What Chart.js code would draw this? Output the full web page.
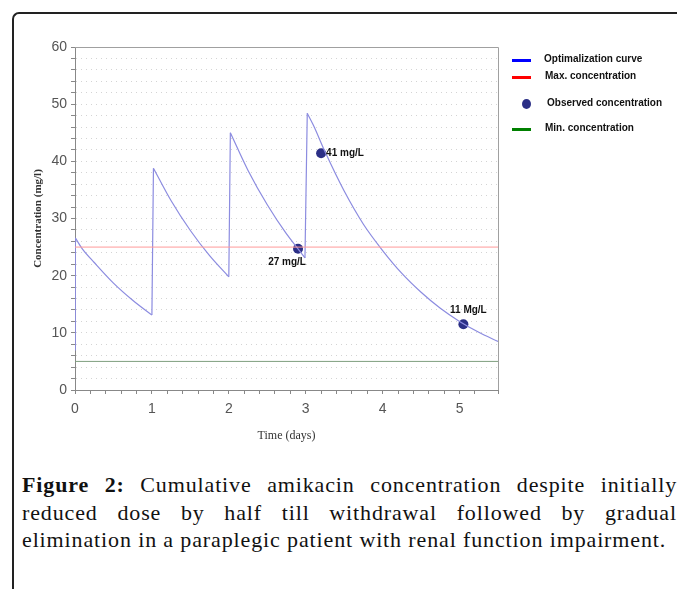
<!DOCTYPE html>
<html>
<head>
<meta charset="utf-8">
<script src="https://cdn.jsdelivr.net/npm/chart.js@4.4.1/dist/chart.umd.min.js"></script>
<style>
  html, body { margin: 0; padding: 0; background: #fff; }
  body { width: 677px; height: 589px; position: relative; overflow: hidden; }
  #frame {
    position: absolute; left: 12px; top: 12px; width: 680px; height: 600px;
    border-top: 2px solid #222; border-left: 2px solid #222; border-top-left-radius: 7px;
  }
  #chart { position: absolute; left: 0; top: 0; }
  #legend { position: absolute; left: 512px; top: 50px; font: bold 10px "Liberation Sans", Arial, sans-serif; color: #111; }
  .item { position: absolute; white-space: nowrap; }
  .sw { position: absolute; width: 19px; height: 3px; }
  .dot { position: absolute; width: 9px; height: 10px; border-radius: 50%; background: #2b2f86; }
  #caption {
    position: absolute; left: 22px; top: 471px; width: 655px;
    font: 22px "Liberation Serif", "DejaVu Serif", serif; line-height: 27.5px;
    text-align: justify; color: #111;
  }
</style>
</head>
<body>
<div id="frame"></div>
<canvas id="chart" width="677" height="460"></canvas>
<div id="legend"></div>
<div id="caption"><b>Figure 2:</b> Cumulative amikacin concentration despite initially reduced dose by half till withdrawal followed by gradual elimination in a paraplegic patient with renal function impairment.</div>
<script>
// optimalization curve (days, mg/l); null separates the dose segments
const curveX = [0, null,
  0.004, 0.1, 0.25, 0.5, 0.75, 1.0, null,
  1.02, 1.25, 1.5, 1.75, 2.0, null,
  2.02, 2.25, 2.5, 2.75, 2.9, 2.99, null,
  3.02, 3.1, 3.25, 3.5, 3.75, 4.0, 4.25, 4.5, 4.75, 5.0, 5.25, 5.5];
const curveY = [7, null,
  26.6, 24.6, 22.3, 18.7, 15.7, 13.1, null,
  38.8, 33.1, 27.9, 23.5, 19.8, null,
  45.0, 38.4, 32.4, 27.3, 24.7, 23.1, null,
  48.4, 46.3, 41.7, 34.8, 29.0, 24.4, 20.4, 17.1, 14.3, 12.0, 10.1, 8.5];

// observed concentrations
const obsX = [2.9, 3.2, 5.05];
const obsY = [24.7, 41.4, 11.5];
const obsLabels = ['27 mg/L', '41 mg/L', '11 Mg/L'];

const maxConc = 25;
const minConc = 5;
const xRange = [0, 5.5];

const legendItems = [
  { label: 'Optimalization curve', color: '#0000ff', type: 'line' },
  { label: 'Max. concentration', color: '#ff0000', type: 'line' },
  { label: 'Observed concentration', color: '#2b2f86', type: 'dot' },
  { label: 'Min. concentration', color: '#008000', type: 'line' }
];

// caption: widen the serif a bit so the lines break like the original
(function () {
  const cap = document.getElementById('caption');
  const c = document.createElement('canvas').getContext('2d');
  c.font = '22px "Liberation Serif"';
  const s = 'elimination in a paraplegic patient with renal function impairment.';
  const w = c.measureText(s).width;
  cap.style.letterSpacing = ((644 - w) / s.length).toFixed(2) + 'px';
})();

// html legend
const legendTops = [0, 17, 44, 69];
const legendEl = document.getElementById('legend');
legendItems.forEach((it, i) => {
  const row = document.createElement('div');
  row.className = 'item';
  row.style.top = legendTops[i] + 'px';
  if (it.type === 'line') {
    row.innerHTML = '<span class="sw" style="left:0;top:9px;background:' + it.color + '"></span>' +
      '<span style="position:absolute;left:' + (i === 0 ? 32 : 33) + 'px;top:3px">' + it.label + '</span>';
  } else {
    row.innerHTML = '<span class="dot" style="left:10px;top:5px"></span>' +
      '<span style="position:absolute;left:35px;top:3px">' + it.label + '</span>';
  }
  legendEl.appendChild(row);
});

const curveData = curveX.map((x, i) => x === null ? { x: NaN, y: null } : { x: x, y: curveY[i] });

// the dose jumps: end of one segment to start of the next
const jumpData = [];
curveX.forEach((x, i) => {
  if (x === null) {
    jumpData.push({ x: curveX[i - 1], y: curveY[i - 1] });
    jumpData.push({ x: curveX[i + 1], y: curveY[i + 1] });
    jumpData.push({ x: NaN, y: null });
  }
});

const obsData = obsX.map((x, i) => ({ x: x, y: obsY[i] }));

// top/right frame of the plot
const framePlugin = {
  id: 'framePlugin',
  beforeDatasetsDraw(chart) {
    const a = chart.chartArea;
    const ctx = chart.ctx;
    ctx.save();
    ctx.strokeStyle = '#a0a0a0';
    ctx.lineWidth = 1;
    ctx.beginPath();
    ctx.moveTo(a.left, a.top + 0.5);
    ctx.lineTo(a.right + 0.5, a.top + 0.5);
    ctx.lineTo(a.right + 0.5, a.bottom);
    ctx.stroke();
    ctx.restore();
  }
};

// text next to the observed points
const labelOffsets = [[-11, 13, 'center'], [5, 0, 'left'], [5, -14, 'center']];
const pointLabels = {
  id: 'pointLabels',
  afterDatasetsDraw(chart) {
    const ctx = chart.ctx;
    const xs = chart.scales.x, ys = chart.scales.y;
    ctx.save();
    ctx.font = 'bold 10px "Liberation Sans", Arial, sans-serif';
    ctx.fillStyle = '#111';
    ctx.textBaseline = 'middle';
    obsLabels.forEach((t, i) => {
      const o = labelOffsets[i];
      ctx.textAlign = o[2];
      ctx.fillText(t, xs.getPixelForValue(obsX[i]) + o[0], ys.getPixelForValue(obsY[i]) + o[1]);
    });
    ctx.restore();
  }
};

Chart.defaults.font.family = '"Liberation Sans", Arial, sans-serif';

new Chart(document.getElementById('chart'), {
  type: 'line',
  data: {
    datasets: [
      {
        label: 'Max. concentration',
        data: xRange.map(x => ({ x: x, y: maxConc })),
        borderColor: '#ff9a9a', borderWidth: 1, pointRadius: 0
      },
      {
        label: 'Min. concentration',
        data: xRange.map(x => ({ x: x, y: minConc })),
        borderColor: '#7f9f7f', borderWidth: 1, pointRadius: 0
      },
      {
        label: 'Optimalization curve',
        data: curveData,
        borderColor: '#8c8ce0', borderWidth: 1.2, pointRadius: 0,
        cubicInterpolationMode: 'monotone', spanGaps: false
      },
      {
        label: 'dose',
        data: jumpData,
        borderColor: '#8c8ce0', borderWidth: 1.2, pointRadius: 0, spanGaps: false
      },
      {
        label: 'Observed concentration',
        data: obsData,
        showLine: false,
        pointRadius: 5, pointBackgroundColor: '#2b2f86', pointBorderColor: '#2b2f86', pointBorderWidth: 0
      }
    ]
  },
  options: {
    responsive: false,
    animation: false,
    parsing: true,
    layout: { padding: { left: 28, top: 47, right: 179, bottom: 13 } },
    plugins: { legend: { display: false }, tooltip: { enabled: false } },
    scales: {
      x: {
        type: 'linear', min: xRange[0], max: xRange[1],
        afterFit(s) { s.height = 57; },
        ticks: {
          stepSize: 0.2, autoSkip: false, maxRotation: 0, padding: 7,
          color: '#555', font: { size: 14 },
          callback: v => Math.abs(v - Math.round(v)) < 1e-6 ? String(Math.round(v)) : ''
        },
        grid: { drawOnChartArea: false, tickLength: 4, tickColor: '#888' },
        border: { color: '#888' },
        title: {
          display: true, text: 'Time (days)', color: '#333',
          font: { family: '"Liberation Serif", serif', size: 12 }
        }
      },
      y: {
        min: 0, max: 60,
        afterFit(s) { s.width = 47; },
        ticks: {
          stepSize: 2, autoSkip: false, padding: 4,
          color: '#555', font: { size: 14 },
          callback: v => v % 10 === 0 ? String(v) : ''
        },
        grid: {
          tickLength: 4, tickColor: '#888',
          color: c => (c.tick && (c.tick.value === 0 || c.tick.value === 60)) ? 'rgba(0,0,0,0)' : '#d4d4d4'
        },
        border: { color: '#888', dash: [1, 4] },
        title: {
          display: true, text: 'Concentration (mg/l)', color: '#333',
          font: { family: '"Liberation Serif", serif', size: 11, weight: 'bold' }
        }
      }
    }
  },
  plugins: [framePlugin, pointLabels]
});
</script>
</body>
</html>
